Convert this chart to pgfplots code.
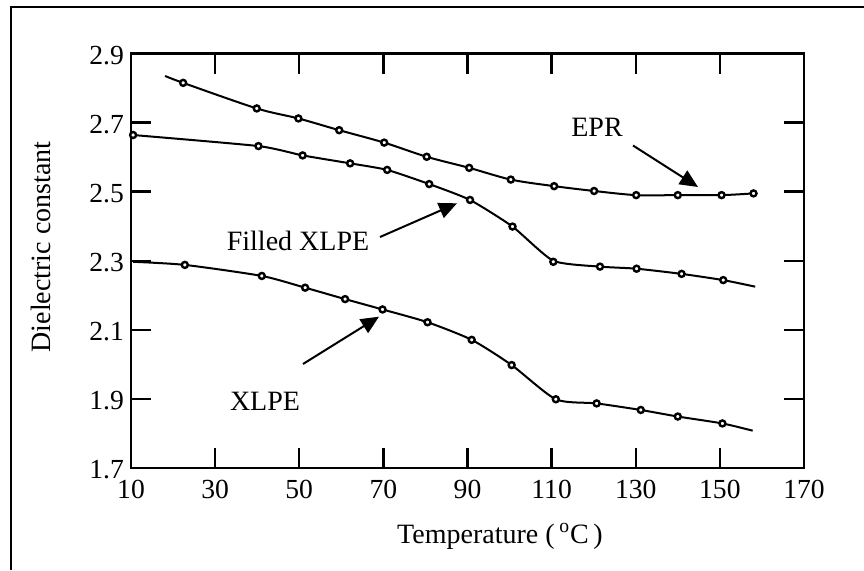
\documentclass[border=0pt]{standalone}
\usepackage{fontspec}
\setmainfont{Liberation Serif}
\usepackage{pgfplots}
\pgfplotsset{compat=1.18}
\usetikzlibrary{arrows.meta}

\begin{document}
\begin{tikzpicture}[x=0.5pt,y=0.5pt]
\useasboundingbox (0,0) rectangle (864,570);
% frame (cropped at right and bottom)
\draw[line width=1pt] (10.5,0) -- (10.5,563) -- (864,563);

\begin{axis}[
  at={(65.5pt,51pt)}, anchor=south west,
  scale only axis, width=336.5pt, height=207.25pt,
  xmin=10, xmax=170, ymin=1.7, ymax=2.9,
  xtick={10,30,50,70,90,110,130,150,170},
  xticklabels={10,30,50,70,90,110,130,150,170},
  ytick={1.7,1.9,2.1,2.3,2.5,2.7,2.9},
  yticklabels={1.7,1.9,2.1,2.3,2.5,2.7,2.9},
  tick align=inside, major tick length=10pt,
  tick style={black, line width=1.2pt},
  axis line style={line width=1.3pt},
  ticklabel style={font=\fontsize{13.8}{15}\selectfont},
  xticklabel style={yshift=-2.4pt},
  yticklabel style={yshift=-1pt},
  /pgf/number format/assume math mode=true,
  clip=false,
  every axis plot/.append style={black},
  dots/.style={only marks, mark=*, mark size=1.5pt, mark options={fill=white, draw=black, line width=1.2pt}},
]
% EPR
\addplot[smooth, tension=0.5, line width=1pt] coordinates {
 (18.1,2.835) (22.4,2.815) (39.9,2.741) (49.8,2.712) (59.5,2.678)
 (70.2,2.642) (80.3,2.601) (90.4,2.569) (100.3,2.535) (110.6,2.516)
 (120.1,2.502) (130.1,2.490) (140.0,2.490) (150.4,2.490) (158.0,2.495)
};
\addplot[dots] coordinates {
 (22.4,2.815) (39.9,2.741) (49.8,2.712) (59.5,2.678)
 (70.2,2.642) (80.3,2.601) (90.4,2.569) (100.3,2.535) (110.6,2.516)
 (120.1,2.502) (130.1,2.490) (140.0,2.490) (150.4,2.490) (158.0,2.495)
};
% Filled XLPE
\addplot[smooth, tension=0.35, line width=1pt] coordinates {
 (10.5,2.664) (40.3,2.632) (50.8,2.605) (62.1,2.582) (70.9,2.563)
 (80.9,2.522) (90.6,2.476) (100.7,2.399) (110.4,2.300)
 (121.5,2.283) (130.2,2.277) (140.9,2.262) (150.8,2.244) (158.4,2.225)
};
\addplot[dots] coordinates {
 (10.5,2.664) (40.3,2.632) (50.8,2.605) (62.1,2.582) (70.9,2.563)
 (80.9,2.522) (90.6,2.476) (100.7,2.399) (110.4,2.297)
 (121.5,2.283) (130.2,2.277) (140.9,2.262) (150.8,2.244)
};
% XLPE
\addplot[smooth, tension=0.4, line width=1pt] coordinates {
 (10.5,2.297) (22.8,2.288) (41.1,2.256) (51.4,2.222) (60.9,2.189)
 (69.8,2.159) (80.5,2.122) (91.0,2.071) (100.5,1.998) (111.0,1.899)
 (120.7,1.887) (131.2,1.868) (140.0,1.849) (150.6,1.829) (157.8,1.808)
};
\addplot[dots] coordinates {
 (22.8,2.288) (41.1,2.256) (51.4,2.222) (60.9,2.189)
 (69.8,2.159) (80.5,2.122) (91.0,2.071) (100.5,1.998) (111.0,1.899)
 (120.7,1.887) (131.2,1.868) (140.0,1.849) (150.6,1.829)
};
\end{axis}

% axis titles
\node[anchor=base, font=\fontsize{14}{16}\selectfont] at (500,27) {Temperature (\,\textsuperscript{o}C\,)};
\node[anchor=base, rotate=90, font=\fontsize{14}{16}\selectfont] at (50,323) {Dielectric constant};

% annotations
\node[font=\fontsize{14}{16}\selectfont] at (597,443) {EPR};
\draw[line width=1pt, -{Triangle[length=9pt,width=8pt]}] (633,424.5) -- (698,383);
\node[font=\fontsize{14}{16}\selectfont] at (298,329) {Filled XLPE};
\draw[line width=1pt, -{Triangle[length=9pt,width=8pt]}] (380,333) -- (457,366.7);
\node[font=\fontsize{14}{16}\selectfont] at (265,169) {XLPE};
\draw[line width=1pt, -{Triangle[length=9pt,width=8pt]}] (303,206) -- (379,253.3);
\end{tikzpicture}
\end{document}
